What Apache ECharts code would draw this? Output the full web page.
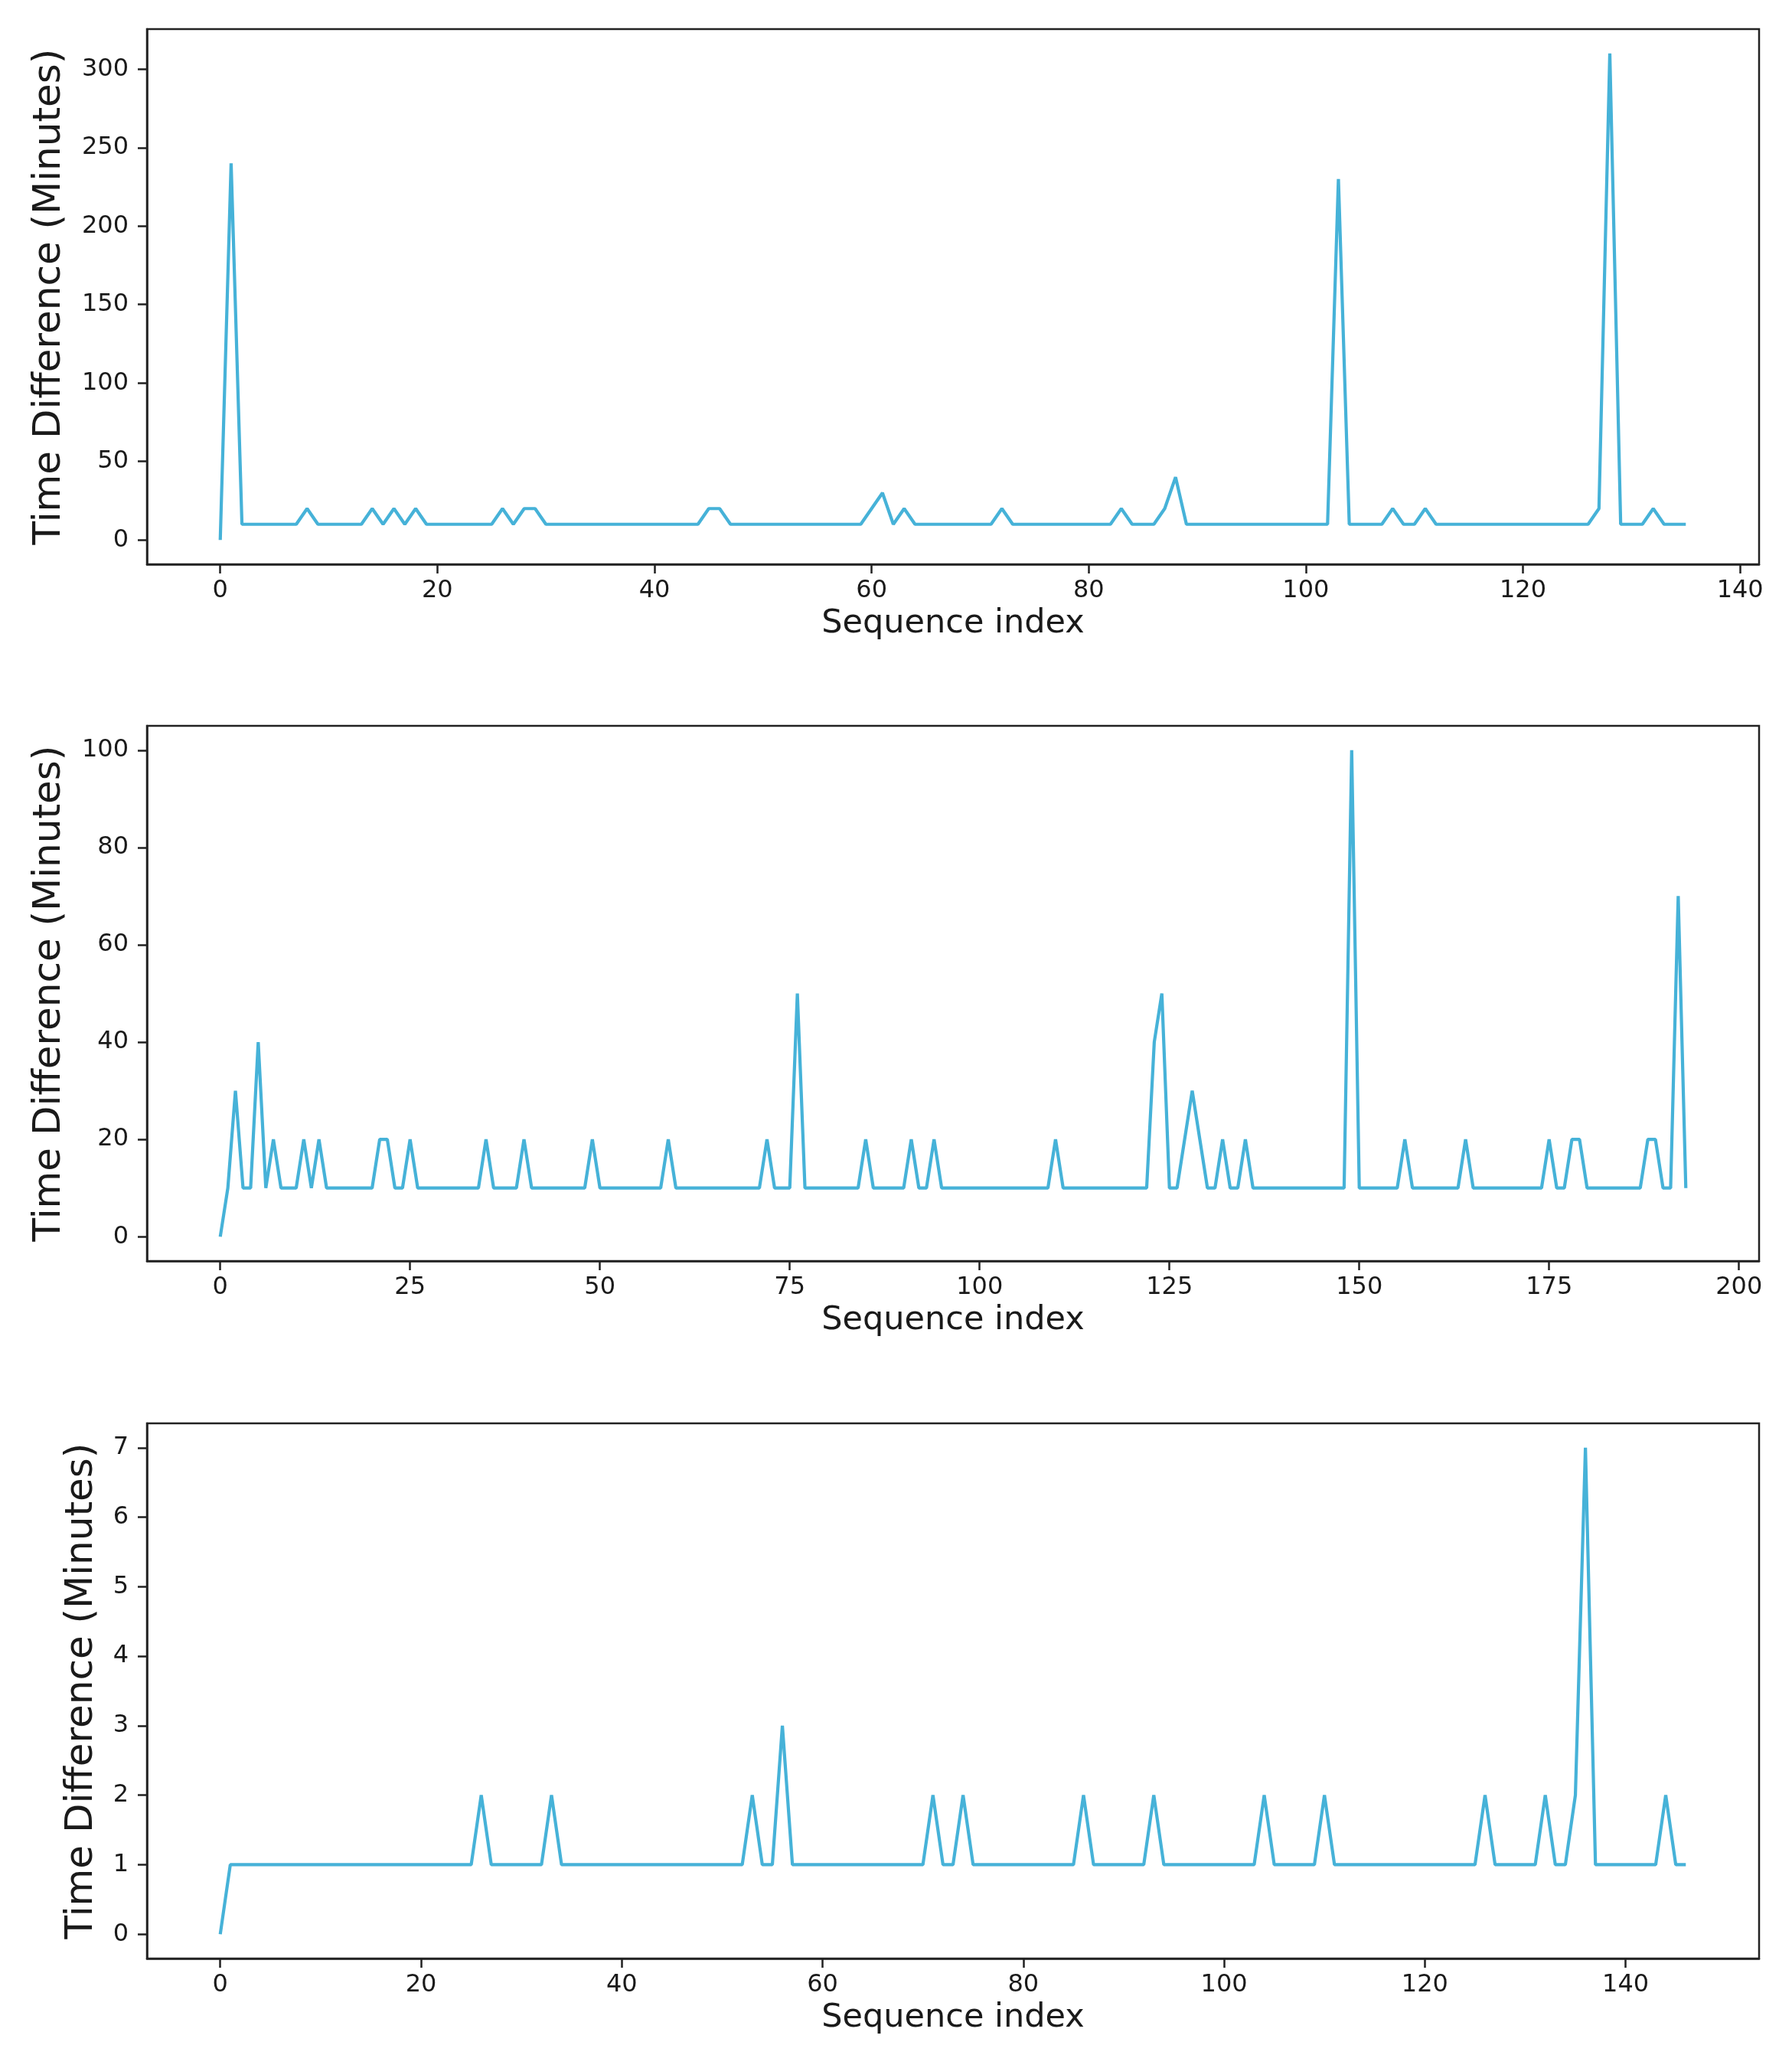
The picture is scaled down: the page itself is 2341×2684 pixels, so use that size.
<!DOCTYPE html>
<html>
<head>
<meta charset="utf-8">
<script src="https://cdn.jsdelivr.net/npm/echarts@6/dist/echarts.min.js"></script>
<style>
html,body{margin:0;padding:0;background:#fff;}
#chart{width:2341px;height:2684px;}
</style>
</head>
<body>
<div id="chart"></div>
<script>
// ---- Data ----
const series1 = [
  0,240,10,10,10,10,10,10,20,10,
  10,10,10,10,20,10,20,10,20,10,
  10,10,10,10,10,10,20,10,20,20,
  10,10,10,10,10,10,10,10,10,10,
  10,10,10,10,10,20,20,10,10,10,
  10,10,10,10,10,10,10,10,10,10,
  20,30,10,20,10,10,10,10,10,10,
  10,10,20,10,10,10,10,10,10,10,
  10,10,10,20,10,10,10,20,40,10,
  10,10,10,10,10,10,10,10,10,10,
  10,10,10,230,10,10,10,10,20,10,
  10,20,10,10,10,10,10,10,10,10,
  10,10,10,10,10,10,10,20,310,10,
  10,10,20,10,10,10
];
const series2 = [
  0,10,30,10,10,40,10,20,10,10,
  10,20,10,20,10,10,10,10,10,10,
  10,20,20,10,10,20,10,10,10,10,
  10,10,10,10,10,20,10,10,10,10,
  20,10,10,10,10,10,10,10,10,20,
  10,10,10,10,10,10,10,10,10,20,
  10,10,10,10,10,10,10,10,10,10,
  10,10,20,10,10,10,50,10,10,10,
  10,10,10,10,10,20,10,10,10,10,
  10,20,10,10,20,10,10,10,10,10,
  10,10,10,10,10,10,10,10,10,10,
  20,10,10,10,10,10,10,10,10,10,
  10,10,10,40,50,10,10,20,30,20,
  10,10,20,10,10,20,10,10,10,10,
  10,10,10,10,10,10,10,10,10,100,
  10,10,10,10,10,10,20,10,10,10,
  10,10,10,10,20,10,10,10,10,10,
  10,10,10,10,10,20,10,10,20,20,
  10,10,10,10,10,10,10,10,20,20,
  10,10,70,10
];
const series3 = [
  0,1,1,1,1,1,1,1,1,1,
  1,1,1,1,1,1,1,1,1,1,
  1,1,1,1,1,1,2,1,1,1,
  1,1,1,2,1,1,1,1,1,1,
  1,1,1,1,1,1,1,1,1,1,
  1,1,1,2,1,1,3,1,1,1,
  1,1,1,1,1,1,1,1,1,1,
  1,2,1,1,2,1,1,1,1,1,
  1,1,1,1,1,1,2,1,1,1,
  1,1,1,2,1,1,1,1,1,1,
  1,1,1,1,2,1,1,1,1,1,
  2,1,1,1,1,1,1,1,1,1,
  1,1,1,1,1,1,2,1,1,1,
  1,1,2,1,1,2,7,1,1,1,
  1,1,1,1,2,1,1
];
const xTicks1 = [0,20,40,60,80,100,120,140];
const xTicks2 = [0,25,50,75,100,125,150,175,200];
const xTicks3 = [0,20,40,60,80,100,120,140];
const yTicks1 = [0,50,100,150,200,250,300];
const yTicks2 = [0,20,40,60,80,100];
const yTicks3 = [0,1,2,3,4,5,6,7];
const xLabel = 'Sequence index';
const yLabel = 'Time Difference (Minutes)';

// ---- Chart ----
const FONT = 'DejaVu Sans';
const TXT = '#1a1a1a';
const LINE = '#46b2d8';
const panels = [
  {data: series1, xt: xTicks1, yt: yTicks1, xmin: -6.75, xmax: 141.75, ymin: -15.5, ymax: 325.5, top: 38, nameGap: 102},
  {data: series2, xt: xTicks2, yt: yTicks2, xmin: -9.65, xmax: 202.65, ymin: -5, ymax: 105, top: 948, nameGap: 102},
  {data: series3, xt: xTicks3, yt: yTicks3, xmin: -7.3, xmax: 153.3, ymin: -0.35, ymax: 7.35, top: 1859, nameGap: 60}
];

const grid = [], xAxis = [], yAxis = [], series = [];
panels.forEach((p, k) => {
  grid.push({left: 192, right: 43, top: p.top, height: 699, show: true,
    borderColor: '#222', borderWidth: 2.5, backgroundColor: '#fff'});
  xAxis.push({
    type: 'value', gridIndex: k, min: p.xmin, max: p.xmax,
    name: xLabel, nameLocation: 'middle', nameGap: 56,
    nameTextStyle: {fontFamily: FONT, fontSize: 43, color: TXT},
    axisLine: {show: true, onZero: false, lineStyle: {color: '#222', width: 2.5}},
    axisTick: {show: true, length: 12, lineStyle: {color: '#222', width: 2.5}, customValues: p.xt},
    axisLabel: {fontFamily: FONT, fontSize: 32, color: TXT, margin: 19, customValues: p.xt},
    splitLine: {show: false}
  });
  yAxis.push({
    type: 'value', gridIndex: k, min: p.ymin, max: p.ymax,
    name: yLabel, nameLocation: 'middle', nameGap: p.nameGap, nameRotate: 90,
    nameTextStyle: {fontFamily: FONT, fontSize: 50, color: TXT},
    axisLine: {show: true, onZero: false, lineStyle: {color: '#222', width: 2.5}},
    axisTick: {show: true, length: 12, lineStyle: {color: '#222', width: 2.5}, customValues: p.yt},
    axisLabel: {fontFamily: FONT, fontSize: 32, color: TXT, margin: 24, customValues: p.yt},
    splitLine: {show: false}
  });
  series.push({
    type: 'line', xAxisIndex: k, yAxisIndex: k,
    data: p.data.map((v, i) => [i, v]),
    showSymbol: false, symbol: 'none', animation: false,
    lineStyle: {color: LINE, width: 4.2}
  });
});

const chart = echarts.init(document.getElementById('chart'), null, {renderer: 'canvas'});
chart.setOption({
  backgroundColor: '#fff',
  animation: false,
  grid, xAxis, yAxis, series
});
</script>
</body>
</html>
